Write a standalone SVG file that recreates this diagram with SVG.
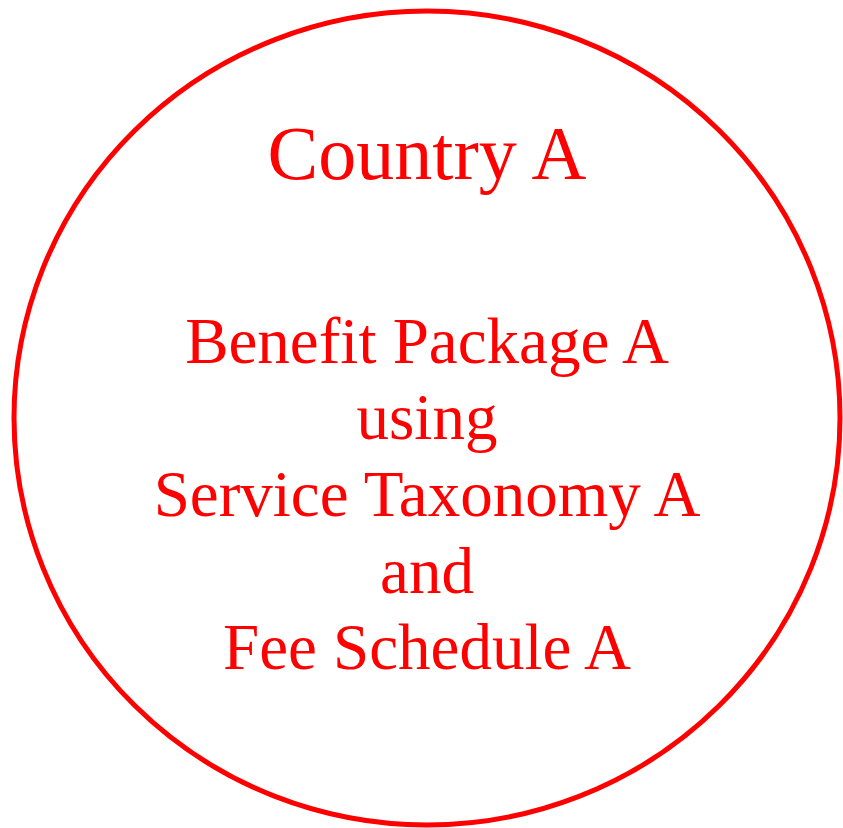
<svg xmlns="http://www.w3.org/2000/svg" width="843" height="828" viewBox="0 0 843 828">
<style>
.t{font-family:"Liberation Serif","Times New Roman",serif;fill:#ff0000;text-anchor:middle}
</style>
<rect width="843" height="828" fill="#ffffff"/>
<g id="country-a">
<ellipse cx="427" cy="418" rx="413" ry="407" fill="none" stroke="#ff0000" stroke-width="5"/>
<text class="t" x="427" y="179" font-size="76">Country A</text>
<text class="t" x="427" y="363" font-size="65">Benefit Package A</text>
<text class="t" x="427" y="439" font-size="65">using</text>
<text class="t" x="427" y="516" font-size="65">Service Taxonomy A</text>
<text class="t" x="427" y="593" font-size="65">and</text>
<text class="t" x="427" y="669" font-size="65">Fee Schedule A</text>
</g>
<g id="connectors"/>
</svg>
